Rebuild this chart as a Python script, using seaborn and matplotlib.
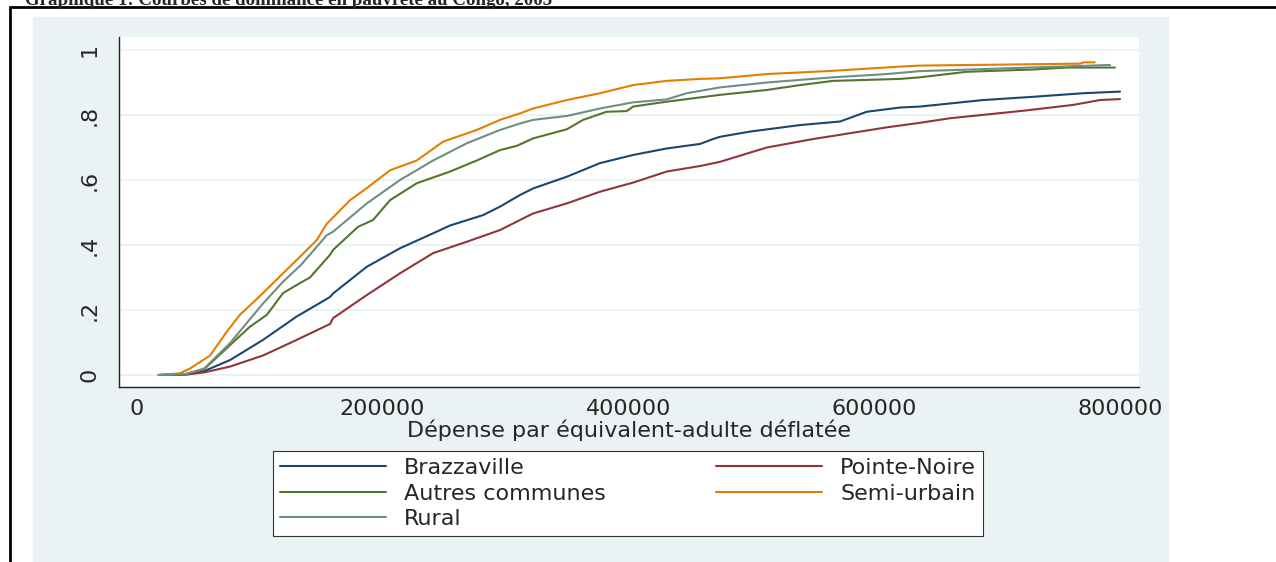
import matplotlib
matplotlib.use("Agg")
import matplotlib.pyplot as plt
import seaborn as sns
import pandas as pd
from matplotlib.patches import Rectangle
from matplotlib.lines import Line2D

W, H = 1276, 562

groups = ["Brazzaville", "Pointe-Noire", "Autres communes", "Semi-urbain", "Rural"]
colors = ["#1a476f", "#90353b", "#55752f", "#e37e00", "#6e8e84"]

# dépense (milliers) / part cumulée de la population
brz_x = [18, 40, 55, 76, 102.8, 130.2, 157.3, 159.8, 187.2, 214.2, 241.1, 254.9, 281.7, 295.5,
         311.8, 322.4, 349.8, 376.8, 403.7, 431, 458.1, 468.7, 474.4, 498.8, 539.4, 572, 593.7,
         620.7, 637, 688.2, 728.9, 769.5, 799.6]
brz_y = [0, 0.002, 0.012, 0.046, 0.108, 0.18, 0.24, 0.251, 0.333, 0.39, 0.436, 0.46, 0.492, 0.518,
         0.554, 0.574, 0.61, 0.652, 0.677, 0.697, 0.711, 0.726, 0.733, 0.749, 0.769, 0.78, 0.81,
         0.823, 0.826, 0.846, 0.856, 0.867, 0.872]

pn_x = [18, 40, 55, 76, 102.8, 130.2, 132.9, 157.3, 159.8, 187.2, 214.2, 241.1, 268.5, 295.5,
        311.8, 322.4, 349.8, 376.8, 403.7, 431, 458.1, 474.4, 512.4, 550, 580.1, 609.9, 637,
        661.4, 720.7, 761.4, 783.3, 799.6]
pn_y = [0, 0.001, 0.008, 0.026, 0.06, 0.108, 0.113, 0.157, 0.175, 0.246, 0.313, 0.375, 0.41, 0.446,
        0.477, 0.497, 0.528, 0.564, 0.592, 0.626, 0.643, 0.656, 0.70, 0.726, 0.744, 0.762, 0.776,
        0.79, 0.813, 0.831, 0.846, 0.849]

aut_x = [18, 40, 55, 76, 92.3, 105.9, 119.1, 132.9, 141, 157.3, 159.8, 180.1, 192.3, 206.1, 227.8,
         254.9, 276.6, 295.5, 309.1, 322.4, 349.8, 363, 382.2, 398.5, 403.7, 431, 458.1, 474.4,
         512.4, 539.4, 566.3, 620.7, 637, 675, 728.9, 756.3, 795.5]
aut_y = [0, 0.003, 0.018, 0.092, 0.149, 0.185, 0.252, 0.283, 0.30, 0.37, 0.385, 0.456, 0.477, 0.538,
         0.59, 0.626, 0.66, 0.692, 0.705, 0.728, 0.756, 0.785, 0.81, 0.812, 0.826, 0.841, 0.854,
         0.862, 0.877, 0.892, 0.905, 0.911, 0.916, 0.933, 0.94, 0.946, 0.946]

semi_x = [18, 35, 43.5, 59.8, 73.3, 84, 102.8, 119.1, 132.9, 146.5, 154.6, 173.6, 187.2, 206.1,
          227.8, 249.2, 276.6, 295.5, 311.8, 322.4, 349.8, 376.8, 403.7, 431, 458.1, 474.4,
          512.4, 566.3, 620.7, 637, 702, 767, 770, 779]
semi_y = [0, 0.005, 0.02, 0.06, 0.133, 0.185, 0.252, 0.313, 0.364, 0.415, 0.465, 0.538, 0.575, 0.63,
          0.66, 0.718, 0.754, 0.785, 0.805, 0.82, 0.846, 0.867, 0.892, 0.905, 0.911, 0.913,
          0.926, 0.936, 0.949, 0.952, 0.955, 0.958, 0.962, 0.962]

rur_x = [18, 40, 55, 76, 89.6, 102.8, 119.1, 134, 154.6, 159.8, 187.2, 214.2, 241.1, 268.5, 295.5,
         311.8, 322.4, 349.8, 376.8, 403.7, 431, 447.3, 474.4, 512.4, 566.3, 609.9, 637, 702, 791.5]
rur_y = [0, 0.003, 0.02, 0.098, 0.16, 0.22, 0.287, 0.34, 0.43, 0.441, 0.528, 0.60, 0.66, 0.713, 0.754,
         0.774, 0.785, 0.797, 0.82, 0.839, 0.848, 0.867, 0.885, 0.90, 0.916, 0.926, 0.935, 0.943, 0.954]

x_ticks = [0, 200000, 400000, 600000, 800000]
x_tick_labels = ["0", "200000", "400000", "600000", "800000"]
y_ticks = [0, 0.2, 0.4, 0.6, 0.8, 1]
y_tick_labels = ["0", ".2", ".4", ".6", ".8", "1"]

series = {
    "Brazzaville": (brz_x, brz_y),
    "Pointe-Noire": (pn_x, pn_y),
    "Autres communes": (aut_x, aut_y),
    "Semi-urbain": (semi_x, semi_y),
    "Rural": (rur_x, rur_y),
}
frames = []
for name, (xs, ys) in series.items():
    frames.append(pd.DataFrame({"depense": [v * 1000 for v in xs], "part": ys, "zone": name}))
df = pd.concat(frames, ignore_index=True)

sns.set_style("white")
plt.rcParams["font.family"] = ["DejaVu Sans"]

fig = plt.figure(figsize=(W / 100, H / 100), dpi=100)
fig.patch.set_facecolor("white")

# fond de la zone graphique + cadre noir
fig.add_artist(Rectangle((33 / W, 0), (1168 - 33) / W, (H - 17) / H,
                         transform=fig.transFigure, color="#eaf2f3", zorder=0))
fig.add_artist(Line2D([10 / W, 10 / W], [0, 1 - 7 / H], color="black", lw=2, transform=fig.transFigure))
fig.add_artist(Line2D([10 / W, 1], [1 - 7 / H, 1 - 7 / H], color="black", lw=2, transform=fig.transFigure))
fig.text(25 / W, 1 - 5 / H, "Graphique 1: Courbes de dominance en pauvreté au Congo, 2005",
         family="Liberation Serif", weight="bold", fontsize=13.6, va="baseline", ha="left")

ax = fig.add_axes([118.6 / W, 1 - 386.7 / H, (1139 - 118.6) / W, (386.7 - 37) / H])
ax.set_facecolor("white")

sns.lineplot(data=df, x="depense", y="part", hue="zone", hue_order=groups,
             palette=colors, estimator=None, sort=True, linewidth=1.5, ax=ax, legend=False)

ax.set_xlim(-14600, 815000)
ax.set_ylim(-0.036, 1.04)
ax.set_xticks(x_ticks)
ax.set_xticklabels(x_tick_labels)
ax.set_yticks(y_ticks)
ax.set_yticklabels(y_tick_labels, rotation=90, va="center")
ax.yaxis.grid(True, color="#eaf2f3", lw=1.5)
ax.set_axisbelow(True)
for s in ["top", "right"]:
    ax.spines[s].set_visible(False)
for s in ["left", "bottom"]:
    ax.spines[s].set_color("#222222")
    ax.spines[s].set_linewidth(1)
ax.tick_params(axis="y", direction="out", length=8, width=0.8, color="#222222", labelsize=16, pad=6)
ax.tick_params(axis="x", direction="out", length=7, width=0.8, color="#222222", labelsize=16, pad=2)
ax.set_xlabel("Dépense par équivalent-adulte déflatée", fontsize=16, labelpad=0)
ax.set_ylabel("")

order = ["Brazzaville", "Autres communes", "Rural", "Pointe-Noire", "Semi-urbain"]
handles = [Line2D([], [], color=colors[groups.index(n)], lw=1.5) for n in order]
leg = fig.legend(handles, order, ncol=2, mode="expand",
                 bbox_to_anchor=(272.8 / W, 1 - 536 / H, (983 - 272.8) / W, (536 - 448.3) / H),
                 loc="lower left", fontsize=16, frameon=True, fancybox=False,
                 edgecolor="#333333", facecolor="white", framealpha=1,
                 handlelength=4.8, handletextpad=0.8, labelspacing=0.25,
                 borderpad=0.31, borderaxespad=0)
leg.get_frame().set_linewidth(0.8)

fig.savefig("out.png", dpi=100)
